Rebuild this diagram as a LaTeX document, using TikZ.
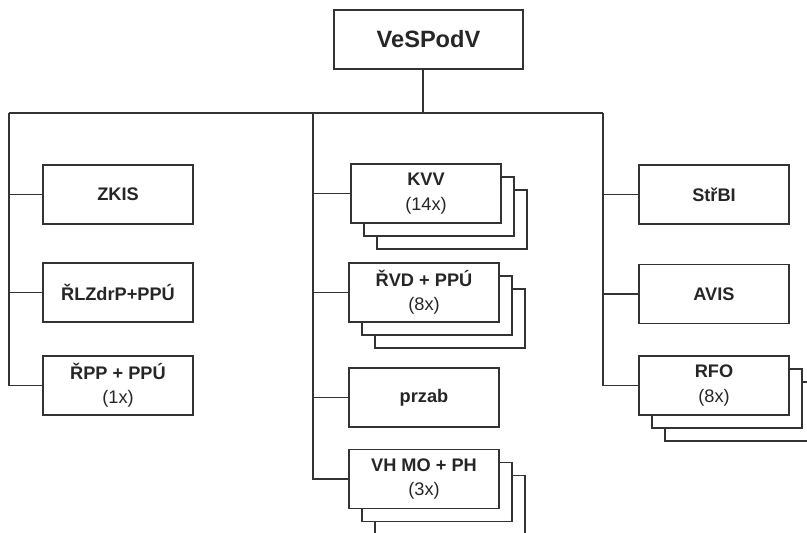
\documentclass[tikz,border=0pt]{standalone}
\usepackage{fontspec}
\setmainfont{Liberation Sans}
\usetikzlibrary{shadows}
\tikzset{unit/.style={draw=black!80, line width=0.6pt, fill=white, minimum width=75pt, minimum height=29.5pt, inner sep=1pt, align=center, text=black!85, font=\fontsize{9.1}{12.2}\selectfont},
         stack/.style={unit, copy shadow={shadow xshift=13pt, shadow yshift=-13pt}, copy shadow={shadow xshift=6.5pt, shadow yshift=-6.5pt}},
         head/.style={unit, minimum width=94.5pt, font=\fontsize{11.8}{14}\selectfont\bfseries},
         link/.style={draw=black!80, line width=0.6pt},
        }

\begin{document}
\begin{tikzpicture}[x=0.5pt, y=-0.5pt]
        \useasboundingbox (0,0) rectangle (807,532);
        \clip (0,0) rectangle (807,532);

        \node[head](top)at(428.5,39.5){VeSPodV};

        % left column
        \node[unit](zkis)at(118,194.5){\textbf{ZKIS}};
        \node[unit](rlz)at(118,292.5){\textbf{ŘLZdrP+PPÚ}};
        \node[unit](rpp)at(118,385.5){\textbf{ŘPP + PPÚ}\\(1x)};

        % middle column
        \node[stack](kvv)at(426,193.5){\textbf{KVV}\\(14x)};
        \node[stack](rvd)at(424,292.5){\textbf{ŘVD + PPÚ}\\(8x)};
        \node[unit](przab)at(424,397.5){\textbf{przab}};
        \node[stack](vhmo)at(424,479){\textbf{VH MO + PH}\\(3x)};

        % right column
        \node[unit](strbi)at(714,194.5){\textbf{StřBI}};
        \node[unit](avis)at(714,294){\textbf{AVIS}};
        \node[stack](rfo)at(714,385.5){\textbf{RFO}\\(8x)};

        \coordinate(stem)at(423,113);
        \coordinate(lbus)at(9,113);
        \coordinate(mbus)at(313,113);
        \coordinate(rbus)at(603,113);

        \draw[link](top.south -| stem)--(stem);
        \draw[link](lbus)--(rbus);

        \draw[link](lbus)|-(rpp.west);
        \draw[link](lbus |- zkis)--(zkis.west);
        \draw[link](lbus |- rlz)--(rlz.west);

        \draw[link](mbus)|-(vhmo.west);
        \draw[link](mbus |- kvv)--(kvv.west);
        \draw[link](mbus |- rvd)--(rvd.west);
        \draw[link](mbus |- przab)--(przab.west);

        \draw[link](rbus)|-(rfo.west);
        \draw[link](rbus |- strbi)--(strbi.west);
        \draw[link](rbus |- avis)--(avis.west);
    \end{tikzpicture}
\end{document}
